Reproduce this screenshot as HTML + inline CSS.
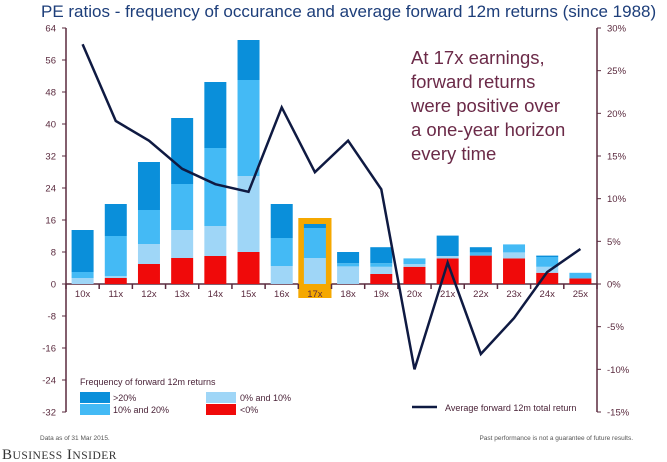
<!DOCTYPE html>
<html><head><meta charset="utf-8"><style>
body{margin:0;background:#fff;}
svg{display:block;font-family:"Liberation Sans",sans-serif;}
</style></head><body>
<svg width="667" height="462" viewBox="0 0 667 462">
<rect width="667" height="462" fill="#fff"/>
<text x="41" y="17" font-size="17" fill="#1d3e7a">PE ratios - frequency of occurance and average forward 12m returns (since 1988)</text>
<g id="axes"></g>
<g id="bars"></g>
<g id="line"></g>
<text font-size="18.5" fill="#6b2a48">
<tspan x="411" y="64">At 17x earnings,</tspan><tspan x="411" y="88">forward returns</tspan><tspan x="411" y="112">were positive over</tspan><tspan x="411" y="136">a one-year horizon</tspan><tspan x="411" y="160">every time</tspan></text>
<g font-size="9" fill="#4a2338">
<text x="80" y="385">Frequency of forward 12m returns</text>
<rect x="80" y="392" width="30" height="11" fill="#0a8fda"/><text x="113" y="401">&gt;20%</text>
<rect x="206" y="392" width="30" height="11" fill="#9fd6f7"/><text x="240" y="401">0% and 10%</text>
<rect x="80" y="404" width="30" height="11" fill="#44baf5"/><text x="113" y="413">10% and 20%</text>
<rect x="206" y="404" width="30" height="11" fill="#f00a0a"/><text x="240" y="413">&lt;0%</text>
<line x1="412" y1="407" x2="437" y2="407" stroke="#0f1a42" stroke-width="2.5"/><text x="445" y="411">Average forward 12m total return</text>
</g>
<text x="40" y="440" font-size="6.5" fill="#555">Data as of 31 Mar 2015.</text>
<text x="633" y="440" font-size="6.5" fill="#555" text-anchor="end">Past performance is not a guarantee of future results.</text>
<text x="2" y="459" font-size="15" fill="#333" font-family="Liberation Serif,serif" letter-spacing="0.5">B<tspan font-size="11.5">USINESS</tspan> I<tspan font-size="11.5">NSIDER</tspan></text>
</svg>
<script>
const categories=["10x","11x","12x","13x","14x","15x","16x","17x","18x","19x","20x","21x","22x","23x","24x","25x"];
const negCounts=[0,1.5,5,6.5,7,8,0,0,0,2.5,4.3,6.4,7.1,6.4,2.8,1.4];
const low10Counts=[1.5,0.5,5,7,7.5,19,4.5,6.5,4.4,1.8,0.7,0.6,0,1.5,1.5,0];
const mid20Counts=[1.5,10,8.5,11.5,19.5,24,7,7.5,0.8,0.9,1.4,0,0.8,2,2.45,1.4];
const high20Counts=[10.5,8,12,16.5,16.5,10,8.5,1,2.8,4,0,5.1,1.3,0,0.35,0];
const avgReturns=[28.1,19.1,16.8,13.5,11.7,10.8,20.7,13.1,16.8,11.1,-10,2.5,-8.2,-4,1.4,4.1];
const leftTicks=[64,56,48,40,32,24,16,8,0,-8,-16,-24,-32];
const rightTicks=[30,25,20,15,10,5,0,-5,-10,-15];
const NS="http://www.w3.org/2000/svg";
const X0=66,X1=597,Y0=284;
const yL=v=>Y0-v*4;
const yR=v=>Y0-v*(256/30);
const band=(X1-X0)/16;
const xC=i=>X0+band*(i+0.5);
function mk(tag,attrs,parent){const e=document.createElementNS(NS,tag);for(const k in attrs)e.setAttribute(k,attrs[k]);parent.appendChild(e);return e;}
const axes=document.getElementById('axes'),bars=document.getElementById('bars'),line=document.getElementById('line');
const ac="#5a2a3e";
let a=mk('line',{x1:X0,y1:yL(64),x2:X0,y2:yL(-32),stroke:ac,'stroke-width':1.5},axes);

a=mk('line',{x1:X1,y1:yR(30),x2:X1,y2:yR(-15),stroke:ac,'stroke-width':1.5},axes);

a=mk('line',{x1:X0,y1:Y0,x2:X1,y2:Y0,stroke:ac,'stroke-width':1.5},axes);

leftTicks.forEach(v=>{mk('line',{x1:X0-4,y1:yL(v),x2:X0,y2:yL(v),stroke:ac},axes);
const t=mk('text',{x:X0-10,y:yL(v)+3.5,'font-size':9.5,fill:ac,'text-anchor':'end'},axes);t.textContent=v;
});
rightTicks.forEach(v=>{mk('line',{x1:X1,y1:yR(v),x2:X1+4,y2:yR(v),stroke:ac},axes);
const t=mk('text',{x:X1+10,y:yR(v)+3.5,'font-size':9.5,fill:ac},axes);t.textContent=v+'%';
});
const hi=categories.indexOf("17x");
const hb=mk('rect',{x:xC(hi)-band/2,y:yL(16.5),width:band,height:Y0-yL(16.5)+14,fill:"#f5a800"},axes);

for(let i=0;i<=16;i++)mk('line',{x1:X0+band*i,y1:Y0,x2:X0+band*i,y2:Y0+5,stroke:ac,'stroke-width':1.5},axes);
categories.forEach((c,i)=>{const t=mk('text',{x:xC(i),y:Y0+13,'font-size':9.5,fill:ac,'text-anchor':'middle'},axes);t.textContent=c;
});
const series=[[negCounts,"#f00a0a","neg"],[low10Counts,"#9fd6f7","0-10"],[mid20Counts,"#44baf5","10-20"],[high20Counts,"#0a8fda","gt20"]];
const bw=22;
categories.forEach((c,i)=>{let base=0;series.forEach(([arr,col,nm])=>{const v=arr[i];if(v>0){
const r=mk('rect',{x:xC(i)-bw/2,y:yL(base+v),width:bw,height:v*4,fill:col},bars);
}base+=v;});});
const p=mk('polyline',{points:avgReturns.map((v,i)=>xC(i)+','+yR(v)).join(' '),fill:'none',stroke:'#0f1a42','stroke-width':2.5,'stroke-linejoin':'miter'},line);

</script>
</body></html>
